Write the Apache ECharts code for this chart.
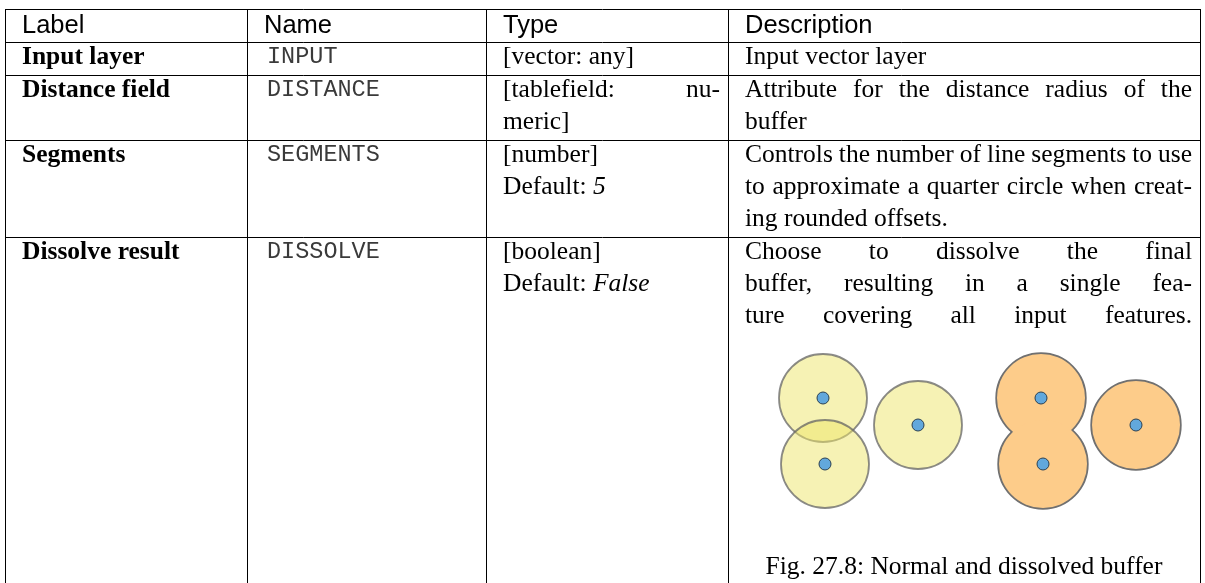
<!DOCTYPE html>
<html><head><meta charset="utf-8">
<script src="https://cdn.jsdelivr.net/npm/echarts@6/dist/echarts.min.js"></script>
<style>html,body{margin:0;padding:0;background:#fff}#c{width:1205px;height:583px}</style>
</head><body><div id="c"></div>
<script>
// ---------- data ----------
const headers = ['Label', 'Name', 'Type', 'Description'];
const paramLabels = ['Input layer', 'Distance field', 'Segments', 'Dissolve result'];
const paramNames = ['INPUT', 'DISTANCE', 'SEGMENTS', 'DISSOLVE'];
const typeLines = [
  ['[vector: any]'],
  ['[tablefield: nu-', 'meric]'],
  ['[number]', 'Default: 5'],
  ['[boolean]', 'Default: False']
];
const typeJustify = [[0], [1, 0], [0, 0], [0, 0]];
const descLines = [
  ['Input vector layer'],
  ['Attribute for the distance radius of the', 'buffer'],
  ['Controls the number of line segments to use', 'to approximate a quarter circle when creat-', 'ing rounded offsets.'],
  ['Choose to dissolve the final', 'buffer, resulting in a single fea-', 'ture covering all input features.']
];
const descJustify = [[0], [1, 0], [1, 1, 0], [1, 1, 1]];
const figureCaption = 'Fig. 27.8: Normal and dissolved buffer';
// figure: buffer centres (figure units)
const normalBufferX = [63, 65, 158];
const normalBufferY = [45, 111, 72];
const dissolvedBufferX = [281, 283, 376];
const dissolvedBufferY = [45, 111, 72];

// ---------- layout ----------
const W = 1205, H = 583;
const colX = [5, 247, 486, 728, 1200];
const tableTop = 9;
const LINE = 32;
const padL = 17, padR = 8, padMono = 20;
const SERIF = '"Liberation Serif","Times New Roman",serif';
const SANS = '"Liberation Sans",Arial,sans-serif';
const MONO = '"Liberation Mono","DejaVu Sans Mono",monospace';
const FS = 25.5;

const mctx = document.createElement('canvas').getContext('2d');
function fontStr(f) { return (f.fontStyle || 'normal') + ' ' + (f.fontWeight || 'normal') + ' ' + f.fontSize + 'px ' + f.fontFamily; }
function measure(t, f) { mctx.font = fontStr(f); return mctx.measureText(t).width; }

const graphics = [];
function addText(t, x, y, f, align) {
  graphics.push({
    type: 'text', x: x, y: y, silent: true,
    style: {
      text: t, fill: f.fill || '#000', fontSize: f.fontSize, fontFamily: f.fontFamily,
      fontWeight: f.fontWeight || 'normal', fontStyle: f.fontStyle || 'normal',
      align: align || 'left', verticalAlign: 'middle',
      textAlign: align || 'left', textVerticalAlign: 'middle'
    }
  });
}
function addLine(x1, y1, x2, y2) {
  graphics.push({ type: 'line', silent: true, shape: { x1: x1, y1: y1, x2: x2, y2: y2 },
    style: { stroke: '#000', lineWidth: 1 } });
}
const serifF = { fontSize: FS, fontFamily: SERIF };
const serifI = { fontSize: FS, fontFamily: SERIF, fontStyle: 'italic' };
const boldF = { fontSize: FS, fontFamily: SERIF, fontWeight: 'bold' };
const sansF = { fontSize: 25.5, fontFamily: SANS };
const monoF = { fontSize: 23.5, fontFamily: MONO, fill: '#3a3a3a' };

function placeLine(t, col, cy, justify) {
  const x0 = colX[col] + padL, x1 = colX[col + 1] - padR;
  if (t.indexOf('Default: ') === 0) {
    const pre = 'Default: ';
    addText(pre, x0, cy, serifF);
    addText(t.slice(pre.length), x0 + measure(pre, serifF), cy, serifI);
    return;
  }
  if (!justify) { addText(t, x0, cy, serifF); return; }
  const words = t.split(' ');
  const widths = words.map(w => measure(w, serifF));
  const tot = widths.reduce((a, b) => a + b, 0);
  const gap = (x1 - x0 - tot) / (words.length - 1);
  let x = x0;
  words.forEach((w, i) => { addText(w, x, cy, serifF); x += widths[i] + gap; });
}

// row tops
const rowTops = [tableTop, tableTop + LINE + 1];
for (let r = 0; r < paramLabels.length; r++) {
  const n = Math.max(typeLines[r].length, descLines[r].length);
  rowTops.push(rowTops[rowTops.length - 1] + n * LINE + 1);
}
// horizontal rules (last row open at page bottom)
for (let i = 0; i < rowTops.length - 1; i++) addLine(colX[0], rowTops[i] + 0.5, colX[4], rowTops[i] + 0.5);
colX.forEach(x => addLine(x + 0.5, tableTop, x + 0.5, H));

// header
headers.forEach((h, c) => addText(h, colX[c] + padL, tableTop + 17, sansF));
// body
for (let r = 0; r < paramLabels.length; r++) {
  const top = rowTops[r + 1];
  const cy0 = top + 15;
  addText(paramLabels[r], colX[0] + padL, cy0, boldF);
  addText(paramNames[r], colX[1] + padMono, cy0, monoF);
  typeLines[r].forEach((t, k) => placeLine(t, 2, cy0 + k * LINE, typeJustify[r][k]));
  descLines[r].forEach((t, k) => placeLine(t, 3, cy0 + k * LINE, descJustify[r][k]));
}
// caption
addText(figureCaption, (colX[3] + colX[4]) / 2, 567, serifF, 'center');

// ---------- figure series ----------
const zip = (xs, ys) => xs.map((x, i) => [x, ys[i]]);
const allX = normalBufferX.concat(dissolvedBufferX);
const allY = normalBufferY.concat(dissolvedBufferY);
const chart = echarts.init(document.getElementById('c'), null, { renderer: 'canvas' });
chart.setOption({
  animation: false,
  backgroundColor: '#fff',
  grid: { left: 760, top: 353, width: 440, height: 200 },
  xAxis: { type: 'value', min: 0, max: 440, show: false },
  yAxis: { type: 'value', min: 0, max: 200, inverse: true, show: false },
  series: [
    { type: 'scatter', silent: true, symbol: 'circle', symbolSize: 88, z: 2,
      data: zip(normalBufferX, normalBufferY),
      itemStyle: { color: 'rgba(237,229,105,0.5)', borderColor: 'rgba(100,100,100,0.75)', borderWidth: 1.8, opacity: 1 } },
    { type: 'scatter', silent: true, symbol: 'circle', symbolSize: 88, z: 2,
      data: zip(dissolvedBufferX, dissolvedBufferY),
      itemStyle: { color: '#fdcc8a', borderColor: '#707070', borderWidth: 3.4, opacity: 1 } },
    { type: 'scatter', silent: true, symbol: 'circle', symbolSize: 88, z: 3,
      data: zip(dissolvedBufferX, dissolvedBufferY),
      itemStyle: { color: '#fdcc8a', borderWidth: 0, opacity: 1 } },
    { type: 'scatter', silent: true, symbol: 'circle', symbolSize: 12, z: 4,
      data: zip(allX, allY),
      itemStyle: { color: '#62a8dc', borderColor: '#2b4153', borderWidth: 1, opacity: 1 } }
  ],
  graphic: { elements: graphics }
});
</script></body></html>
